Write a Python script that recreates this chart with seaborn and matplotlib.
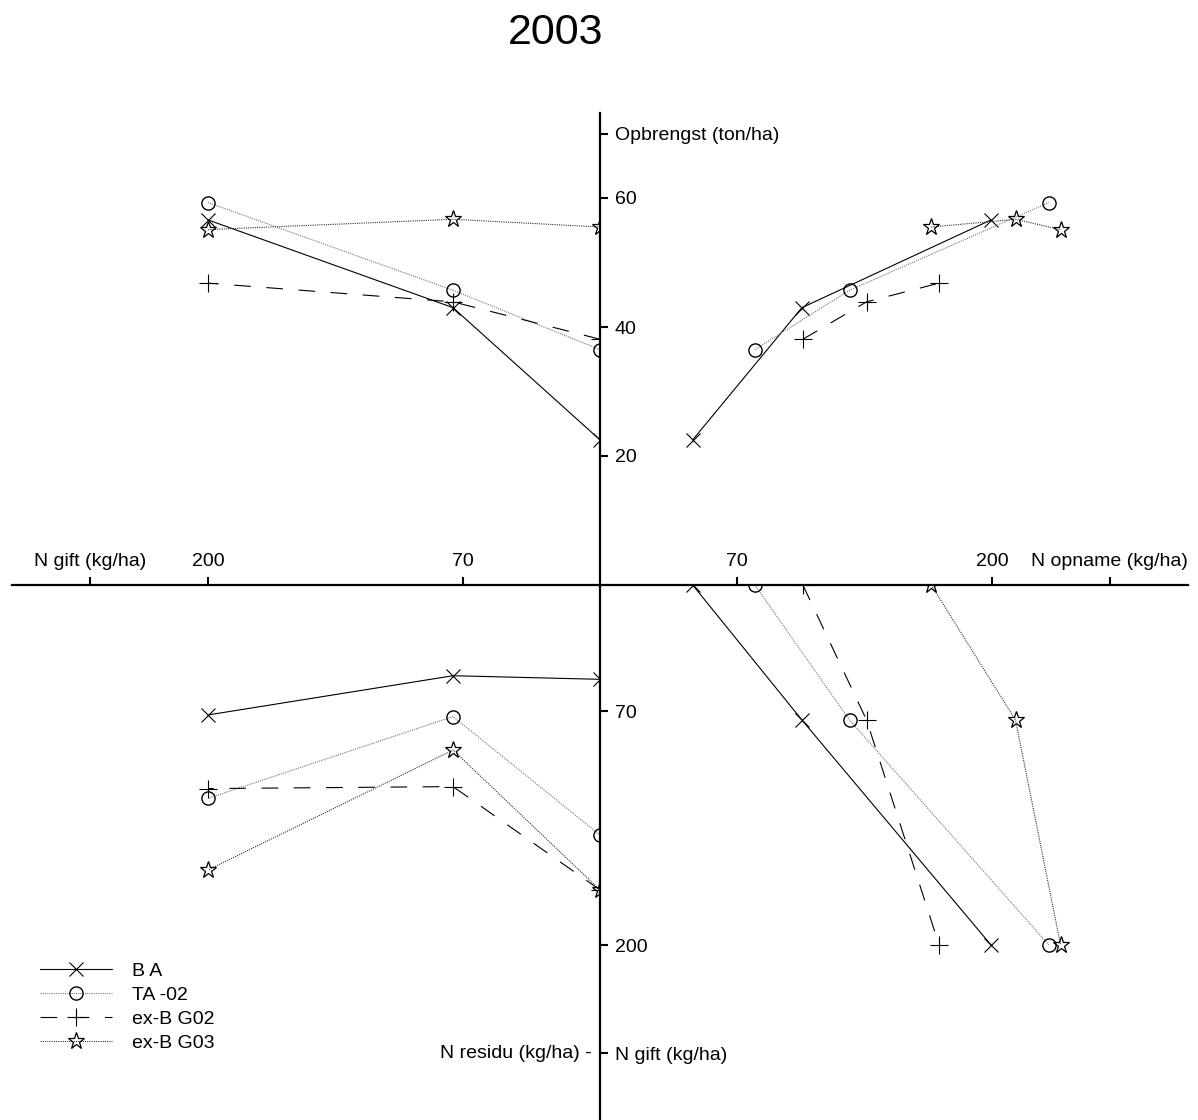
import matplotlib
matplotlib.use("Agg")
import matplotlib.pyplot as plt
import seaborn as sns

# N-gift levels (kg/ha)
gift = [0, 75, 200]

series = ["B A", "TA -02", "ex-B G02", "ex-B G03"]

# Yield (ton/ha) per gift level
opbrengst_BA = [22.5, 43.0, 56.6]
opbrengst_TA02 = [36.5, 45.7, 59.3]
opbrengst_BG02 = [38.1, 43.9, 46.8]
opbrengst_BG03 = [55.5, 56.7, 55.1]

# N uptake (kg/ha) per gift level
opname_BA = [47.3, 103.0, 199.5]
opname_TA02 = [79.0, 127.3, 229.0]
opname_BG02 = [103.5, 136.0, 173.0]
opname_BG03 = [169.0, 212.0, 235.0]

# N residue (kg/ha) per gift level
residu_BA = [52.4, 50.4, 72.2]
residu_TA02 = [138.9, 73.1, 118.5]
residu_BG02 = [169.4, 112.0, 113.1]
residu_BG03 = [169.4, 91.7, 158.3]

# tick labels on the four half-axes
yield_ticks = [20, 40, 60, 70]
yield_labels = ["20", "40", "60", "Opbrengst (ton/ha)"]
gift_ticks = [200, 70, 260]
gift_labels = ["200", "70", "N gift (kg/ha)"]
opname_ticks = [70, 200, 260]
opname_labels = ["70", "200", "N opname (kg/ha)"]
down_ticks = [70, 200, 260]
down_labels = ["70", "200", "N gift (kg/ha)"]

sns.set_style("white")
plt.rcParams["font.family"] = ["Liberation Sans", "DejaVu Sans"]
plt.rcParams["text.color"] = "black"
plt.rcParams["axes.labelcolor"] = "black"
plt.rcParams["xtick.color"] = "black"
plt.rcParams["ytick.color"] = "black"

W, H = 1198, 1120
fig = plt.figure(figsize=(W / 100, H / 100), dpi=100)

cx, cy = 600, 585          # origin in pixels
kx = 1.96                  # px per kg/ha horizontally
ky_top = 6.45              # px per ton/ha
ky_bot = 1.8               # px per kg/ha downward
xmax = 300
ytop = 73.2
ybot = 300


def rect(l, t, r, b):
    return [l / W, 1 - b / H, (r - l) / W, (b - t) / H]


left_px = cx - xmax * kx
right_px = cx + xmax * kx
top_px = cy - ytop * ky_top
bot_px = cy + ybot * ky_bot

ax_tl = fig.add_axes(rect(left_px, top_px, cx, cy))
ax_tr = fig.add_axes(rect(cx, top_px, right_px, cy))
ax_bl = fig.add_axes(rect(left_px, cy, cx, bot_px))
ax_br = fig.add_axes(rect(cx, cy, right_px, bot_px))

ax_tl.set_xlim(xmax, 0); ax_tl.set_ylim(0, ytop)
ax_tr.set_xlim(0, xmax); ax_tr.set_ylim(0, ytop)
ax_bl.set_xlim(xmax, 0); ax_bl.set_ylim(ybot, 0)
ax_br.set_xlim(0, xmax); ax_br.set_ylim(ybot, 0)

styles = {
    "B A": dict(color="black", lw=0.8, linestyle="-", marker="x",
                markersize=9.5, mew=0.8, mec="black", mfc="none"),
    "TA -02": dict(color="#777777", lw=0.8, linestyle=(0, (1, 1)), marker="o",
                   markersize=9.5, mew=1.0, mec="black", mfc="none"),
    "ex-B G02": dict(color="black", lw=0.8, linestyle=(0, (15, 14)), marker="+",
                     markersize=13, mew=0.8, mec="black", mfc="none"),
    "ex-B G03": dict(color="#333333", lw=0.8, linestyle=(0, (1, 1)), marker="*",
                     markersize=12.5, mew=0.9, mec="black", mfc="none"),
}

opbrengst = [opbrengst_BA, opbrengst_TA02, opbrengst_BG02, opbrengst_BG03]
opname = [opname_BA, opname_TA02, opname_BG02, opname_BG03]
residu = [residu_BA, residu_TA02, residu_BG02, residu_BG03]

for name, yv, upt, res in zip(series, opbrengst, opname, residu):
    st = styles[name]
    sns.lineplot(x=gift, y=yv, ax=ax_tl, sort=False, estimator=None, legend=False, **st)
    sns.lineplot(x=upt, y=yv, ax=ax_tr, sort=False, estimator=None, legend=False, **st)
    sns.lineplot(x=gift, y=res, ax=ax_bl, sort=False, estimator=None, legend=False, **st)
    sns.lineplot(x=upt, y=gift, ax=ax_br, sort=False, estimator=None, legend=False, **st)

for ax in (ax_tl, ax_tr, ax_bl, ax_br):
    ax.set_facecolor("none")
    ax.set_xlabel("")
    ax.set_ylabel("")
    for s in ax.spines.values():
        s.set_visible(False)
        s.set_linewidth(1.6)
        s.set_color("black")
    ax.tick_params(left=False, right=False, top=False, bottom=False,
                   labelleft=False, labelright=False, labeltop=False, labelbottom=False)

fs = 14
tick_kw = dict(direction="out", length=5.5, width=1.5, colors="black", labelsize=fs, pad=5)

# vertical axis, upper half: yield
ax_tl.spines["right"].set_visible(True)
ax_tl.yaxis.tick_right()
ax_tl.set_yticks(yield_ticks, yield_labels)
ax_tl.tick_params(axis="y", right=True, labelright=True, left=False, labelleft=False, **tick_kw)
ax_tl.set_xticks([])

# horizontal axis, left half: N gift
ax_bl.spines["top"].set_visible(True)
ax_bl.spines["right"].set_visible(True)
ax_bl.xaxis.tick_top()
ax_bl.set_xticks(gift_ticks, gift_labels)
ax_bl.tick_params(axis="x", top=True, labeltop=True, bottom=False, labelbottom=False, **tick_kw)
# vertical axis, lower half
ax_bl.yaxis.tick_right()
ax_bl.set_yticks(down_ticks, down_labels)
ax_bl.tick_params(axis="y", right=True, labelright=True, left=False, labelleft=False, **tick_kw)
ax_bl.annotate("N residu (kg/ha) -", xy=(0, 260), xytext=(-6, 0), textcoords="offset points",
               ha="right", va="center", fontsize=fs, color="black", annotation_clip=False)

# horizontal axis, right half: N opname
ax_br.spines["top"].set_visible(True)
ax_br.xaxis.tick_top()
ax_br.set_xticks(opname_ticks, opname_labels)
ax_br.tick_params(axis="x", top=True, labeltop=True, bottom=False, labelbottom=False, **tick_kw)
ax_br.set_yticks([])

ax_tr.set_xticks([]); ax_tr.set_yticks([])

# legend built from the plotted lines
handles = ax_tr.get_lines()[:4]
leg = fig.legend(handles, series, loc="upper left",
                 bbox_to_anchor=(40 / W, 1 - 962 / H), frameon=False,
                 fontsize=fs, handlelength=3.7, handletextpad=1.05,
                 labelspacing=0.33, borderpad=0, borderaxespad=0, numpoints=1)
for t in leg.get_texts():
    t.set_color("black")

fig.text(556 / W, 1 - 33 / H, "2003", ha="center", va="center", fontsize=31, color="black")

fig.savefig("out.png", dpi=100)
